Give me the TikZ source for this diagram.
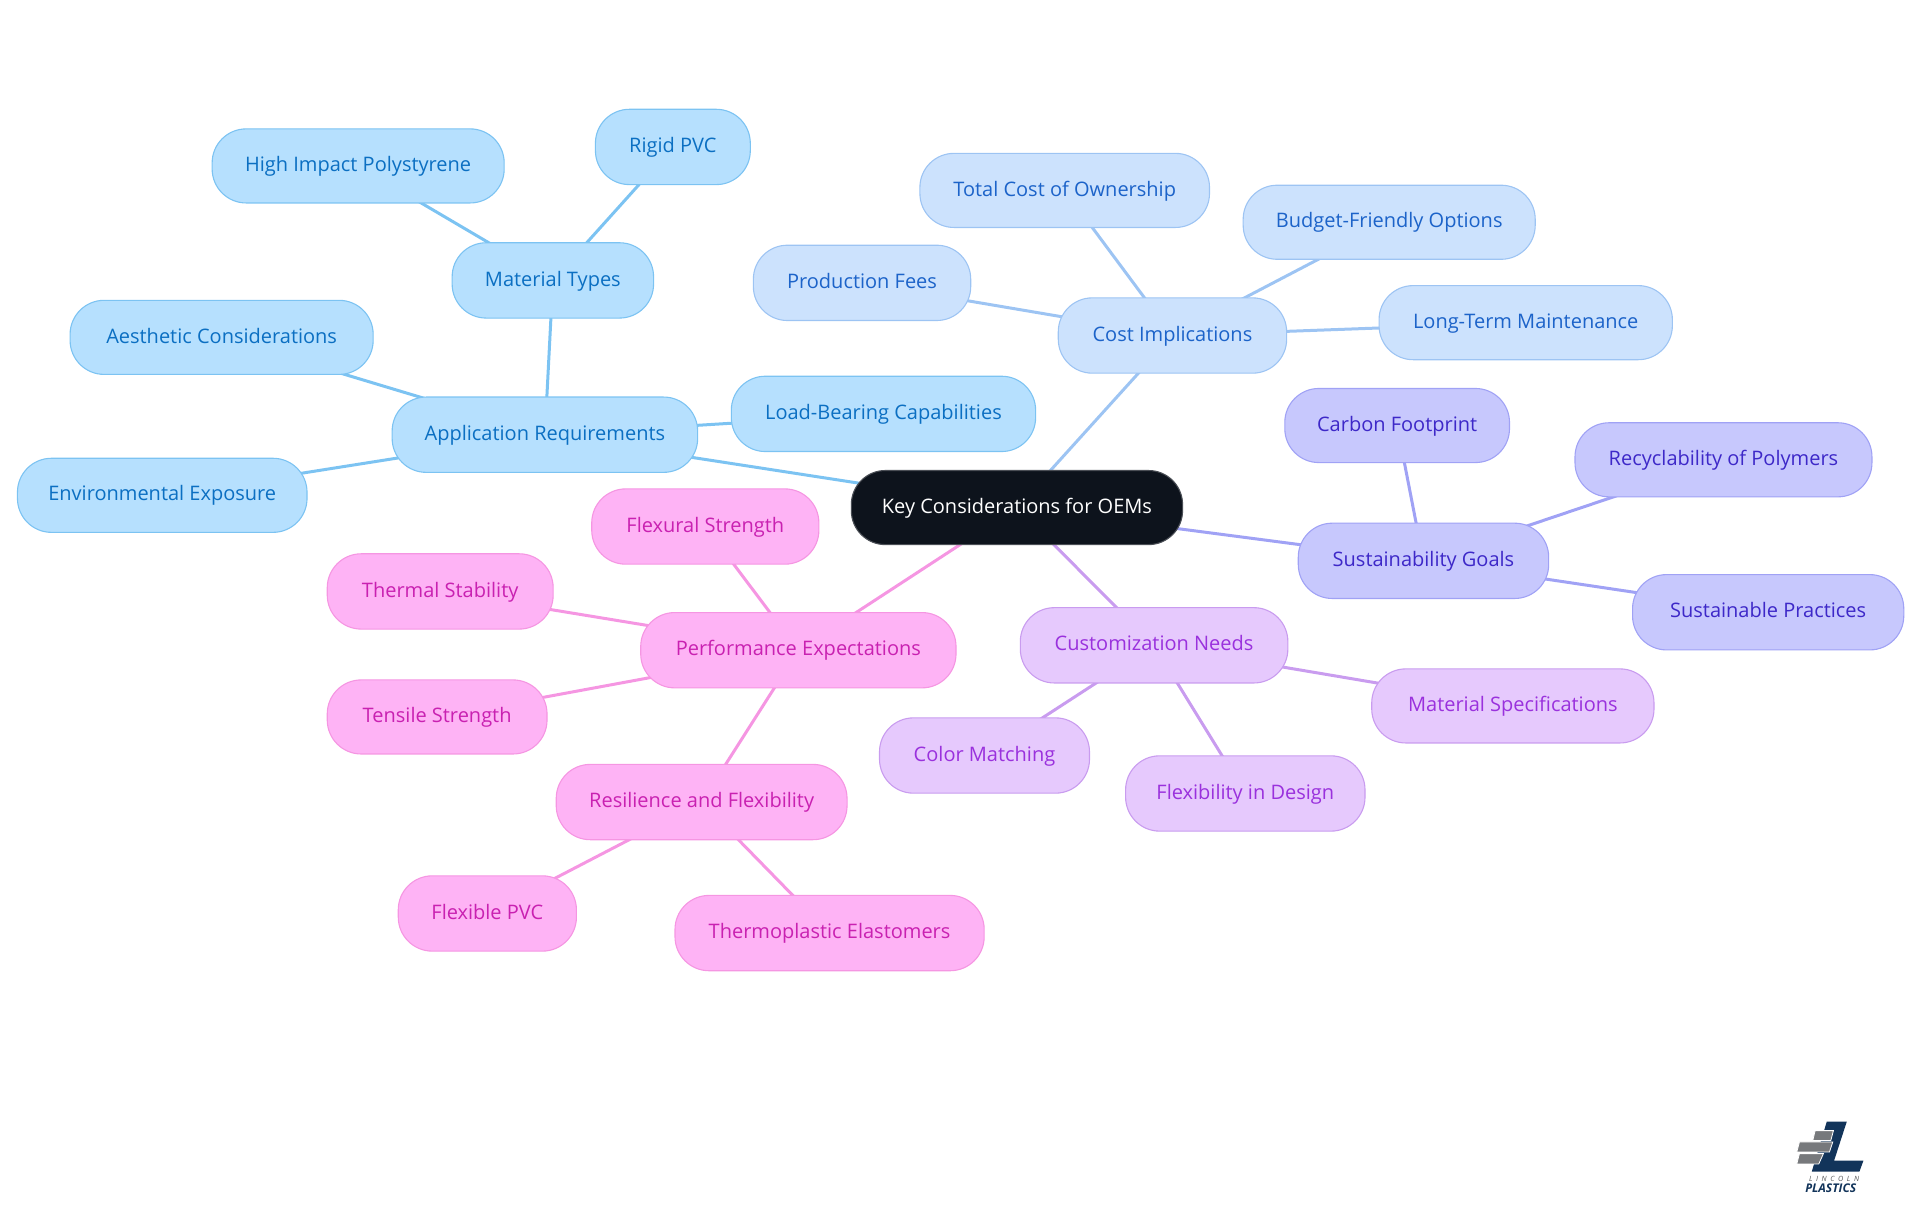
\documentclass[tikz,border=0pt]{standalone}
\usepackage{fontspec}
\setmainfont{Open Sans}
\usetikzlibrary{backgrounds}
\definecolor{rootfill}{HTML}{0D131C}
\definecolor{afill}{HTML}{B6E0FE}\definecolor{aline}{HTML}{7CC3F2}\definecolor{atext}{HTML}{0B6FC2}
\definecolor{cfill}{HTML}{CCE2FD}\definecolor{cline}{HTML}{9DC4F3}\definecolor{ctext}{HTML}{1C63C9}
\definecolor{sfill}{HTML}{C7C8FD}\definecolor{sline}{HTML}{A0A2F5}\definecolor{stext}{HTML}{3D28C8}
\definecolor{ufill}{HTML}{E6C9FD}\definecolor{uline}{HTML}{C99CEF}\definecolor{utext}{HTML}{9A31DD}
\definecolor{pfill}{HTML}{FEB3F5}\definecolor{pline}{HTML}{F596E2}\definecolor{ptext}{HTML}{C921B1}
\definecolor{logoblue}{HTML}{12345A}\definecolor{logogrey}{HTML}{77797C}
\tikzset{
 box/.style={draw,rounded corners=17pt,line width=.55pt,inner sep=0pt,font=\fontsize{10pt}{12pt}\selectfont,text depth=.54ex,text height=1.6ex},
 rootbox/.style={box,fill=rootfill,draw=rootfill!75!white,text=white},
 abox/.style={box,fill=afill,draw=aline,text=atext},
 cbox/.style={box,fill=cfill,draw=cline,text=ctext},
 sbox/.style={box,fill=sfill,draw=sline,text=stext},
 ubox/.style={box,fill=ufill,draw=uline,text=utext},
 pbox/.style={box,fill=pfill,draw=pline,text=ptext},
 link/.style={line width=1.5pt},
 alink/.style={link,draw=aline},clink/.style={link,draw=cline},slink/.style={link,draw=sline},ulink/.style={link,draw=uline},plink/.style={link,draw=pline}
}
\newcommand{\mnode}[7]{\node[#2,minimum width={(#4-#3-0.5)*0.61224pt},minimum height={(#6-#5-0.5)*0.61224pt}] (#1) at ({(#3+#4)/2},{(#5+#6)/2}) {#7};}
\begin{document}
\begin{tikzpicture}[x=0.61224pt,y=-0.61224pt]
\useasboundingbox (0,0) rectangle (1568,992.25);
\mnode{root}{rootbox}{695}{966}{384}{445}{Key Considerations for OEMs}
\mnode{app}{abox}{320}{570}{324}{386}{Application Requirements}
\mnode{mat}{abox}{369}{534}{198}{260}{Material Types}
\mnode{hips}{abox}{173}{412}{105}{166}{High Impact Polystyrene}
\mnode{rigid}{abox}{486}{613}{89}{151}{Rigid PVC}
\mnode{aes}{abox}{57}{305}{245}{306}{Aesthetic Considerations}
\mnode{env}{abox}{14}{251}{374}{435}{Environmental Exposure}
\mnode{load}{abox}{597}{846}{307}{369}{Load-Bearing Capabilities}
\mnode{cost}{cbox}{864}{1051}{243}{305}{Cost Implications}
\mnode{tco}{cbox}{751}{988}{125}{186}{Total Cost of Ownership}
\mnode{budget}{cbox}{1015}{1254}{151}{212}{Budget-Friendly Options}
\mnode{prod}{cbox}{615}{793}{200}{262}{Production Fees}
\mnode{maint}{cbox}{1126}{1366}{233}{294}{Long-Term Maintenance}
\mnode{sus}{sbox}{1060}{1265}{427}{489}{Sustainability Goals}
\mnode{carbon}{sbox}{1049}{1233}{317}{378}{Carbon Footprint}
\mnode{recy}{sbox}{1286}{1529}{345}{406}{Recyclability of Polymers}
\mnode{prac}{sbox}{1333}{1555}{469}{531}{Sustainable Practices}
\mnode{cus}{ubox}{833}{1052}{496}{558}{Customization Needs}
\mnode{spec}{ubox}{1120}{1351}{546}{607}{Material Specifications}
\mnode{color}{ubox}{718}{890}{586}{648}{Color Matching}
\mnode{design}{ubox}{919}{1115}{617}{679}{Flexibility in Design}
\mnode{perf}{pbox}{523}{781}{500}{562}{Performance Expectations}
\mnode{flex}{pbox}{483}{669}{399}{461}{Flexural Strength}
\mnode{therm}{pbox}{267}{452}{452}{514}{Thermal Stability}
\mnode{tens}{pbox}{267}{447}{555}{616}{Tensile Strength}
\mnode{res}{pbox}{454}{692}{624}{686}{Resilience and Flexibility}
\mnode{fpvc}{pbox}{325}{471}{715}{777}{Flexible PVC}
\mnode{tpe}{pbox}{551}{804}{731}{793}{Thermoplastic Elastomers}
\begin{scope}[on background layer]
\draw[alink] (root.center)--(app.center);
\draw[alink] (app.center)--(mat.center);
\draw[alink] (app.center)--(aes.center);
\draw[alink] (app.center)--(env.center);
\draw[alink] (app.center)--(load.center);
\draw[alink] (mat.center)--(hips.center);
\draw[alink] (mat.center)--(rigid.center);
\draw[clink] (root.center)--(cost.center);
\draw[clink] (cost.center)--(tco.center);
\draw[clink] (cost.center)--(budget.center);
\draw[clink] (cost.center)--(prod.center);
\draw[clink] (cost.center)--(maint.center);
\draw[slink] (root.center)--(sus.center);
\draw[slink] (sus.center)--(carbon.center);
\draw[slink] (sus.center)--(recy.center);
\draw[slink] (sus.center)--(prac.center);
\draw[ulink] (root.center)--(cus.center);
\draw[ulink] (cus.center)--(spec.center);
\draw[ulink] (cus.center)--(color.center);
\draw[ulink] (cus.center)--(design.center);
\draw[plink] (root.center)--(perf.center);
\draw[plink] (perf.center)--(flex.center);
\draw[plink] (perf.center)--(therm.center);
\draw[plink] (perf.center)--(tens.center);
\draw[plink] (perf.center)--(res.center);
\draw[plink] (res.center)--(fpvc.center);
\draw[plink] (res.center)--(tpe.center);
\end{scope}
% logo
\begin{scope}[shift={(1437.4,898.3)},x=0.16667pt,y=-0.16667pt]
\fill[logoblue] (200,65)--(260,65)--(222,182)--(310,182)--(298,215)--(155,215)--cycle;
\fill[logogrey,draw=white,line width=.4pt] (165,92)--(220,92)--(212,122)--(158,122)--cycle;
\fill[logogrey,draw=white,line width=.4pt] (118,126)--(218,126)--(208,156)--(110,156)--cycle;
\fill[logogrey,draw=white,line width=.4pt] (118,161)--(190,161)--(176,192)--(110,192)--cycle;
\node[text=logogrey!70!black,font=\fontsize{3.6pt}{4pt}\selectfont\itshape] (logoa) at (222,236) {L\,\,\,I\,\,\,N\,\,\,C\,\,\,O\,\,\,L\,\,\,N};
\node[text=logoblue,font=\fontsize{6pt}{7pt}\selectfont\bfseries\itshape] (logob) at (212,266) {PLASTICS};
\end{scope}
\end{tikzpicture}
\end{document}
